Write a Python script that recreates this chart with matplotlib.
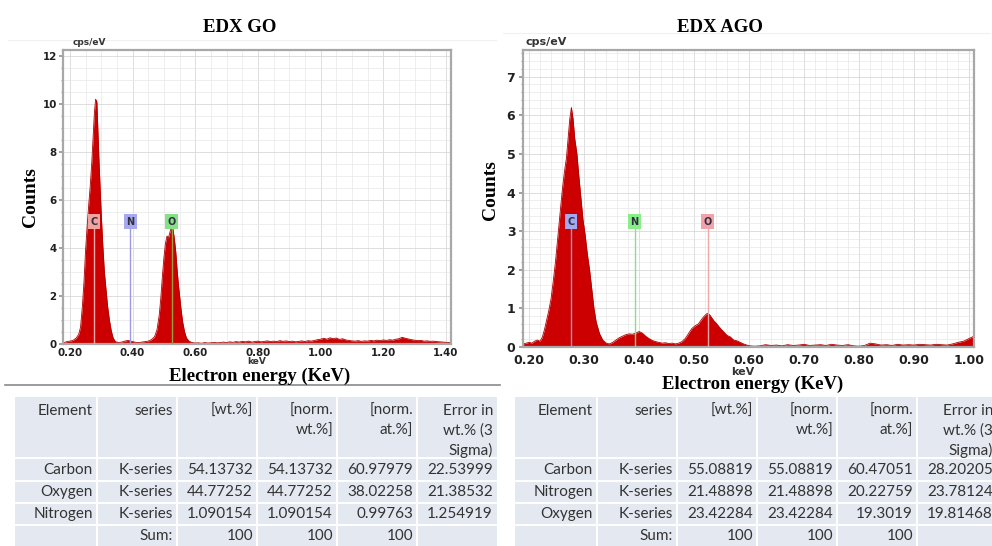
import matplotlib
matplotlib.use("Agg")
import matplotlib.pyplot as plt
from matplotlib.ticker import MultipleLocator, FormatStrFormatter
from matplotlib.patches import Rectangle
import numpy as np

# ---------------- spectrum data (keV, cps/eV) ----------------
go_energy = [
    0.180, 0.190, 0.200, 0.210, 0.220, 0.228, 0.234, 0.240, 0.245, 0.250,
    0.255, 0.260, 0.265, 0.270, 0.274, 0.278, 0.282, 0.286, 0.289, 0.292,
    0.296, 0.300, 0.305, 0.310, 0.315, 0.320, 0.326, 0.332, 0.338, 0.345,
    0.355, 0.365, 0.375, 0.385, 0.392, 0.400, 0.410, 0.420, 0.430, 0.440,
    0.450, 0.460, 0.470, 0.478, 0.485, 0.490, 0.495, 0.500, 0.505, 0.510,
    0.514, 0.518, 0.522, 0.526, 0.530, 0.534, 0.538, 0.542, 0.546, 0.550,
    0.555, 0.560, 0.566, 0.572, 0.580, 0.590, 0.600, 0.610, 0.620, 0.630,
    0.640, 0.650, 0.660, 0.670, 0.680, 0.690, 0.700, 0.710, 0.720, 0.730,
    0.740, 0.750, 0.760, 0.770, 0.780, 0.790, 0.800, 0.810, 0.820, 0.830,
    0.840, 0.850, 0.860, 0.870, 0.880, 0.890, 0.900, 0.910, 0.920, 0.930,
    0.940, 0.950, 0.960, 0.970, 0.980, 0.990, 1.000, 1.010, 1.020, 1.030,
    1.040, 1.050, 1.060, 1.070, 1.080, 1.090, 1.100, 1.110, 1.120, 1.130,
    1.140, 1.150, 1.160, 1.170, 1.180, 1.190, 1.200, 1.210, 1.220, 1.230,
    1.240, 1.250, 1.260, 1.270, 1.280, 1.290, 1.300, 1.310, 1.320, 1.330,
    1.340, 1.350, 1.360, 1.370, 1.380, 1.390, 1.400, 1.416,
]
go_counts = [
    0.05, 0.10, 0.12, 0.15, 0.25, 0.40, 0.70, 1.60, 2.60, 3.90,
    4.90, 5.80, 6.60, 7.60, 8.60, 9.60, 10.20, 10.10, 9.00, 7.90,
    6.60, 5.40, 4.10, 3.00, 2.30, 1.60, 1.00, 0.55, 0.25, 0.10,
    0.06, 0.08, 0.12, 0.15, 0.13, 0.10, 0.07, 0.06, 0.08, 0.10,
    0.12, 0.18, 0.30, 0.60, 1.20, 1.90, 2.80, 3.60, 4.20, 4.50,
    4.40, 4.60, 4.80, 4.95, 4.70, 4.30, 3.80, 3.10, 2.50, 2.00,
    1.40, 0.90, 0.50, 0.25, 0.12, 0.06, 0.04, 0.05, 0.03, 0.06,
    0.04, 0.05, 0.07, 0.05, 0.06, 0.08, 0.06, 0.09, 0.07, 0.10,
    0.08, 0.11, 0.09, 0.12, 0.08, 0.10, 0.12, 0.09, 0.11, 0.13,
    0.10, 0.12, 0.10, 0.14, 0.11, 0.13, 0.10, 0.12, 0.09, 0.11,
    0.13, 0.10, 0.14, 0.12, 0.15, 0.18, 0.20, 0.24, 0.20, 0.26,
    0.22, 0.25, 0.19, 0.22, 0.17, 0.15, 0.13, 0.12, 0.14, 0.11,
    0.13, 0.12, 0.15, 0.13, 0.16, 0.14, 0.17, 0.15, 0.18, 0.16,
    0.20, 0.22, 0.28, 0.24, 0.21, 0.18, 0.16, 0.14, 0.15, 0.12,
    0.13, 0.11, 0.12, 0.10, 0.09, 0.08, 0.07, 0.06,
]

ago_energy = [
    0.189, 0.195, 0.200, 0.205, 0.210, 0.215, 0.220, 0.224, 0.228, 0.232,
    0.236, 0.240, 0.244, 0.248, 0.252, 0.256, 0.260, 0.264, 0.268, 0.271,
    0.274, 0.277, 0.280, 0.283, 0.287, 0.290, 0.294, 0.298, 0.302, 0.306,
    0.310, 0.314, 0.318, 0.322, 0.328, 0.334, 0.340, 0.346, 0.352, 0.358,
    0.364, 0.370, 0.376, 0.382, 0.388, 0.394, 0.400, 0.406, 0.412, 0.418,
    0.424, 0.430, 0.436, 0.442, 0.448, 0.454, 0.460, 0.466, 0.472, 0.478,
    0.484, 0.490, 0.496, 0.502, 0.508, 0.512, 0.516, 0.520, 0.524, 0.528,
    0.532, 0.536, 0.540, 0.544, 0.548, 0.552, 0.556, 0.560, 0.566, 0.572,
    0.578, 0.584, 0.590, 0.596, 0.602, 0.610, 0.620, 0.630, 0.640, 0.650,
    0.660, 0.670, 0.680, 0.690, 0.700, 0.710, 0.720, 0.730, 0.740, 0.750,
    0.760, 0.770, 0.780, 0.790, 0.800, 0.810, 0.820, 0.830, 0.840, 0.850,
    0.860, 0.870, 0.880, 0.890, 0.900, 0.910, 0.920, 0.930, 0.940, 0.950,
    0.960, 0.970, 0.980, 0.990, 1.000, 1.009,
]
ago_counts = [
    0.08, 0.10, 0.12, 0.10, 0.15, 0.18, 0.15, 0.25, 0.45, 0.70,
    0.95, 1.25, 1.70, 2.20, 2.80, 3.40, 4.00, 4.50, 4.90, 5.40,
    5.90, 6.20, 5.90, 5.40, 5.00, 4.50, 3.90, 3.30, 2.90, 2.40,
    2.00, 1.50, 1.00, 0.65, 0.35, 0.18, 0.10, 0.08, 0.12, 0.18,
    0.24, 0.28, 0.32, 0.34, 0.33, 0.36, 0.40, 0.36, 0.28, 0.22,
    0.17, 0.14, 0.12, 0.10, 0.11, 0.09, 0.10, 0.08, 0.10, 0.14,
    0.22, 0.35, 0.48, 0.55, 0.60, 0.68, 0.76, 0.82, 0.87, 0.84,
    0.76, 0.68, 0.62, 0.55, 0.48, 0.42, 0.36, 0.30, 0.26, 0.18,
    0.16, 0.12, 0.08, 0.05, 0.03, 0.02, 0.03, 0.06, 0.04, 0.05,
    0.03, 0.06, 0.04, 0.05, 0.07, 0.04, 0.05, 0.06, 0.04, 0.07,
    0.05, 0.04, 0.06, 0.03, 0.02, 0.04, 0.10, 0.08, 0.05, 0.06,
    0.04, 0.07, 0.05, 0.06, 0.05, 0.07, 0.06, 0.05, 0.07, 0.06,
    0.05, 0.08, 0.12, 0.15, 0.22, 0.28,
]

# element marker lines
go_elements = ["C", "N", "O"]
go_lines_kev = [0.277, 0.392, 0.525]
go_box_colors = ["#f2a3a0", "#a8a8f0", "#86e086"]
go_line_colors = ["#f2a8a8", "#9a9ae6", "#9aa040"]

ago_elements = ["C", "N", "O"]
ago_lines_kev = [0.277, 0.392, 0.525]
ago_box_colors = ["#a3a8f2", "#88ee88", "#f2a3aa"]
ago_line_colors = ["#9a9ad6", "#88e088", "#f0a8a8"]

# ---------------- quantification tables ----------------
table_header = [["Element"], ["series"], ["[wt.%]"], ["[norm.", "wt.%]"],
                ["[norm.", "at.%]"], ["Error in", "wt.% (3", "Sigma)"]]
go_table_rows = [
    ["Carbon", "K-series", "54.13732", "54.13732", "60.97979", "22.53999"],
    ["Oxygen", "K-series", "44.77252", "44.77252", "38.02258", "21.38532"],
    ["Nitrogen", "K-series", "1.090154", "1.090154", "0.99763", "1.254919"],
    ["", "Sum:", "100", "100", "100", ""],
]
ago_table_rows = [
    ["Carbon", "K-series", "55.08819", "55.08819", "60.47051", "28.20205"],
    ["Nitrogen", "K-series", "21.48898", "21.48898", "20.22759", "23.78124"],
    ["Oxygen", "K-series", "23.42284", "23.42284", "19.3019", "19.81468"],
    ["", "Sum:", "100", "100", "100", ""],
]

W, H = 992, 546
fig = plt.figure(figsize=(W / 100, H / 100), dpi=100)

# full-figure overlay in pixel units for titles, labels and tables
over = fig.add_axes([0, 0, 1, 1], zorder=0)
over.set_xlim(0, W)
over.set_ylim(H, 0)
over.axis("off")

SERIF = ["Liberation Serif", "DejaVu Serif"]
NARROW = ["Liberation Sans Narrow", "DejaVu Sans"]
RED = "#cc0000"


def spectrum(rect, energy, counts, xlim, ylim, xmajor, xminor, ymajor, yminor,
             xfmt, elements, lines_kev, box_colors, line_colors, label_y,
             tick_font, tick_size, xpad):
    ax = fig.add_axes(rect, zorder=2)
    ax.set_facecolor("white")
    ax.fill_between(energy, counts, 0, color=RED, lw=0, zorder=2)
    ax.plot(energy, counts, color="#b00000", lw=0.6, zorder=2)
    ax.set_xlim(*xlim)
    ax.set_ylim(*ylim)
    ax.xaxis.set_major_locator(MultipleLocator(xmajor))
    ax.xaxis.set_minor_locator(MultipleLocator(xminor))
    ax.yaxis.set_major_locator(MultipleLocator(ymajor))
    ax.yaxis.set_minor_locator(MultipleLocator(yminor))
    ax.xaxis.set_major_formatter(FormatStrFormatter(xfmt))
    ax.grid(True, which="major", color="#d8d8d8", lw=0.6, zorder=0)
    ax.grid(True, which="minor", color="#e8e8e8", lw=0.5, zorder=0)
    ax.set_axisbelow(True)
    for s in ax.spines.values():
        s.set_color("#a8a8a8")
        s.set_linewidth(1.6)
    ax.tick_params(axis="y", which="major", length=3, width=1.2, color="#909090",
                   pad=1.5, labelsize=tick_size)
    ax.tick_params(axis="y", which="minor", length=1.8, width=0.8, color="#a0a0a0")
    ax.tick_params(axis="x", which="both", length=0, pad=xpad, labelsize=tick_size)
    for lab in ax.get_xticklabels() + ax.get_yticklabels():
        lab.set_fontfamily(tick_font)
        lab.set_fontweight("bold")
        lab.set_color("#202020")
    for sym, e, bc, lc in zip(elements, lines_kev, box_colors, line_colors):
        ax.plot([e, e], [0, label_y], color=lc, lw=1.0, zorder=3)
        ax.text(e, label_y, sym, ha="center", va="center", fontsize=7,
                fontweight="bold", color="#303040", zorder=4,
                bbox=dict(boxstyle="square,pad=0.25", fc=bc, ec="none"))
    return ax


ax1 = spectrum([63 / W, 1 - 344 / H, (451 - 63) / W, (344 - 50) / H],
               go_energy, go_counts, (0.178, 1.416), (0, 12.25),
               0.2, 0.05, 2, 0.5, "%.2f", go_elements, go_lines_kev,
               go_box_colors, go_line_colors, 5.1,
               ["DejaVu Sans"], 7.4, 3)
ax2 = spectrum([523 / W, 1 - 347 / H, (974 - 523) / W, (347 - 50) / H],
               ago_energy, ago_counts, (0.189, 1.009), (0, 7.69),
               0.1, 0.02, 1, 0.2, "%.2f", ago_elements, ago_lines_kev,
               ago_box_colors, ago_line_colors, 3.24,
               NARROW, 9, 5)
ax2.tick_params(axis="y", which="major", pad=2.5)

# software unit captions
over.text(73, 47, "cps/eV", fontsize=6.5, fontweight="bold", color="#333333",
          va="bottom", ha="left", family="DejaVu Sans")
over.text(257, 362, "keV", fontsize=6.5, fontweight="bold", color="#333333",
          va="center", ha="center", family="DejaVu Sans")
over.text(525, 47, "cps/eV", fontsize=8, fontweight="bold", color="#333333",
          va="bottom", ha="left", family=NARROW)
over.text(743, 372, "keV", fontsize=8, fontweight="bold", color="#333333",
          va="center", ha="center", family=NARROW)

# panel titles and axis captions
over.text(240, 28, "EDX GO", fontsize=13.5, fontweight="bold", family=SERIF,
          ha="center", va="center")
over.text(720, 28, "EDX AGO", fontsize=13.5, fontweight="bold", family=SERIF,
          ha="center", va="center")
over.text(31, 197, "Counts", fontsize=14, fontweight="bold", family=SERIF,
          ha="center", va="center", rotation=90)
over.text(491, 190, "Counts", fontsize=14, fontweight="bold", family=SERIF,
          ha="center", va="center", rotation=90)
over.text(260, 376, "Electron energy (KeV)", fontsize=13.5, fontweight="bold",
          family=SERIF, ha="center", va="center", zorder=5)
over.text(753, 384, "Electron energy (KeV)", fontsize=13.5, fontweight="bold",
          family=SERIF, ha="center", va="center", zorder=5)

# faint frame lines of the source panels
over.plot([8, 496], [40, 40], color="#f0f0f0", lw=0.8)
over.plot([503, 990], [33, 33], color="#f0f0f0", lw=0.8)
over.plot([5, 500], [385, 385], color="#8a8a8a", lw=1.2)


def draw_table(x_edges, top, rows):
    bg = "#e4e8f1"
    over.add_patch(Rectangle((x_edges[0], top), x_edges[-1] - x_edges[0],
                             H - top + 2, fc=bg, ec="none", zorder=1))
    for xe in x_edges[1:-1]:
        over.plot([xe, xe], [top, H + 2], color="white", lw=1.4, zorder=2)
    for ys in [458, 481, 503, 525]:
        over.plot([x_edges[0], x_edges[-1]], [ys, ys], color="white", lw=1.4,
                  zorder=2)
    header_ys = [411, 431, 450]
    row_ys = [470, 492, 514, 536]
    for c, hdr in enumerate(table_header):
        xr = x_edges[c + 1] - 4
        for k, line in enumerate(hdr):
            over.text(xr, header_ys[k], line, ha="right", va="center",
                      fontsize=11, color="#333333", family="Lato", zorder=3)
    for r, row in enumerate(rows):
        for c, val in enumerate(row):
            over.text(x_edges[c + 1] - 4, row_ys[r], val, ha="right",
                      va="center", fontsize=11, color="#333333",
                      family="Lato", zorder=3)


draw_table([15, 97, 177, 257, 337, 417, 497], 397, go_table_rows)
draw_table([515, 597, 677, 757, 837, 917, 997], 397, ago_table_rows)

fig.savefig("out.png", dpi=100, facecolor="white")
